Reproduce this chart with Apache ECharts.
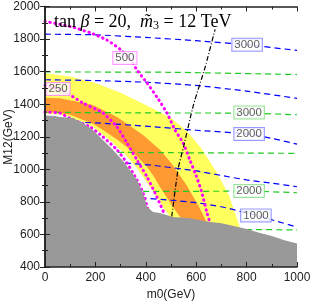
<!DOCTYPE html>
<html><head><meta charset="utf-8">
<script src="https://cdn.jsdelivr.net/npm/echarts@6/dist/echarts.min.js"></script>
<style>html,body{margin:0;padding:0;background:#fff}#c{width:312px;height:304px}</style>
</head><body><div id="c"></div>
<script>
// axis ranges / ticks
const xRange = [0, 1000], xStep = 200;
const yRange = [400, 2000], yStep = 200;

// regions (m0, M12)
const grayRegion = [[0,1330],[40,1328],[60,1322],[111,1315],[151,1285],[190,1241],[230,1180],[270,1119],[306,1057],[337,996],[365,934],[389,855],[405,769],[429,738],[456,732],[508,707],[575,700],[650,678],[700,668],[750,652],[800,633],[850,610],[900,590],[950,565],[1000,545],[1000,400],[0,400]];
const yellowUpper = [[0,1590],[100,1570],[200,1530],[300,1470],[400,1395],[500,1315],[560,1240],[620,1130],[680,985],[730,840],[770,660],[780,600]];
const yellowLower = [[0,1342],[60,1336],[100,1322],[150,1290],[190,1262],[230,1212],[270,1162],[310,1105],[349,1039],[380,975],[417,891],[445,830],[468,769],[496,707],[500,600]];
const orangeUpper = [[0,1440],[60,1436],[190,1395],[286,1322],[389,1210],[456,1120],[500,1040],[563,900],[615,760],[640,680],[650,600]];
const orangeLower = [[0,1354],[60,1346],[100,1335],[150,1305],[190,1280],[230,1241],[280,1190],[325,1137],[365,1080],[405,1014],[430,960],[456,891],[482,830],[508,769],[536,707],[545,600]];

// blue dashed contours
const blue1 = [[0,1830],[200,1826],[400,1810],[600,1790],[800,1765],[1000,1730]];
const blue2 = [[0,1550],[200,1545],[400,1535],[600,1515],[800,1480],[1000,1436]];
const blue3 = [[0,1295],[200,1285],[400,1265],[600,1240],[800,1218],[900,1190],[1000,1155]];
const blue4 = [[0,1060],[300,1040],[420,1026],[600,990],[700,962],[800,935],[900,915],[1000,893]];
const blue5 = [[300,830],[400,822],[500,810],[600,795],[700,770],[837,718],[900,690],[1000,645]];
// green dashed contours
const green1 = [[0,1598],[500,1596],[1000,1582]];
const green2 = [[0,1350],[500,1346],[800,1345],[1000,1335]];
const green3 = [[250,1105],[500,1102],[800,1100],[1000,1098]];
const green4 = [[350,865],[500,864],[800,866],[1000,856]];
const green5 = [[600,632],[800,630],[1000,628]];
// magenta dotted contours
const magA = [[0,1352],[60,1345],[100,1312],[179,1260],[230,1199],[286,1119],[325,1039],[365,934],[389,855],[409,750]];
const magB = [[0,1515],[52,1493],[87,1469],[151,1407],[230,1346],[286,1260],[325,1162],[365,1057],[405,953],[444,830],[476,719]];
const magC = [[0,1908],[100,1877],[180,1838],[245,1795],[300,1735],[340,1670],[365,1610],[405,1530],[444,1444],[484,1346],[516,1241],[548,1162],[575,1057],[600,960],[620,870],[643,732],[655,670]];
// black dash-dot line
const blackLine = [[503,710],[528,1000],[550,1140],[590,1400],[635,1625],[675,1860]];

// contour labels [m0, M12, text]
const blueLabels = [[802,1765,'3000'],[810,1217,'2000'],[837,717,'1000']];
const greenLabels = [[810,1349,'3000'],[810,867,'2000']];
const magLabels = [[317,1684,'500'],[52,1493,'250']];

function poly(pts, color, z){
  return {type:'custom', z, silent:true, clip:true, data: pts, encode:{x:0,y:1},
    renderItem:(params, api)=>{
      if(params.dataIndex!==0) return null;
      return {type:'polygon', shape:{points: pts.map(p=>api.coord(p))}, style:{fill:color}};
    }};
}
function band(upper, lower){ return upper.concat(lower.slice().reverse()); }
function line(pts, color, type, width, z, cap){
  return {type:'line', z, silent:true, data: pts, symbol:'none', smooth:0.2, clip:true,
    lineStyle:{color, type, width, cap: cap||'butt'}};
}
function labels(arr, border){
  return {type:'scatter', z:10, silent:true, data: arr, symbol:'rect', symbolSize:1,
    itemStyle:{color:'rgba(0,0,0,0)'},
    label:{show:true, position:'inside', formatter:p=>p.data[2], fontFamily:'Liberation Sans', fontSize:11.5,
      color:'#333', backgroundColor:'#fff', borderColor:border, borderWidth:1, padding:[1,2,0,2], lineHeight:11}};
}

const axisCommon = {
  splitLine:{show:false},
  axisLine:{show:true, lineStyle:{color:'#222', width:1.5}},
  axisTick:{show:true, inside:true, length:5, lineStyle:{color:'#222'}},
  minorTick:{show:true, splitNumber:2, length:3, lineStyle:{color:'#222'}},
  z: 20
};
const fmt = v => String(v);
const chart = echarts.init(document.getElementById('c'), null, {renderer:'canvas'});
chart.setOption({
  animation:false,
  grid:{left:45, right:15, top:6.5, bottom:37, containLabel:false, outerBoundsMode:'none'},
  title:{left:49, top:7, text:'{a|tan }{i|β}{a| = 20,  }{i|m̃}{s|3}{a| = 12 TeV}',
    textStyle:{fontWeight:'normal', rich:{
      a:{fontFamily:'Liberation Serif', fontSize:18, fontWeight:'normal', color:'#000'},
      i:{fontFamily:'Liberation Serif', fontSize:18, fontStyle:'italic', fontWeight:'normal', color:'#000'},
      s:{fontFamily:'Liberation Serif', fontSize:12, fontWeight:'normal', color:'#000', padding:[8,0,0,0]}
    }}},
  graphic:[{type:'text', x:9, y:137, rotation:Math.PI/2, z:30,
    style:{text:'M12(GeV)', font:'12px "Liberation Sans"', fill:'#222', align:'center', verticalAlign:'middle'}}],
  xAxis:[
    Object.assign({}, axisCommon, {type:'value', min:xRange[0], max:xRange[1], interval:xStep, position:'bottom',
      name:'m0(GeV)', nameLocation:'middle', nameGap:20, nameTextStyle:{fontFamily:'Liberation Sans', fontSize:12, color:'#222'},
      axisLabel:{fontFamily:'Liberation Sans', fontSize:12, color:'#222', margin:5, formatter:fmt}}),
    Object.assign({}, axisCommon, {type:'value', min:xRange[0], max:xRange[1], interval:xStep, position:'top', axisLabel:{show:false}})
  ],
  yAxis:[
    Object.assign({}, axisCommon, {type:'value', min:yRange[0], max:yRange[1], interval:yStep, position:'left',
      axisLabel:{fontFamily:'Liberation Sans', fontSize:12, color:'#222', margin:5, formatter:fmt}}),
    Object.assign({}, axisCommon, {type:'value', min:yRange[0], max:yRange[1], interval:yStep, position:'right', axisLabel:{show:false}})
  ],
  series:[
    poly(band(yellowUpper, yellowLower), '#ffff5e', 1),
    poly(band(orangeUpper, orangeLower), '#ff9a33', 1),
    line(blue1,'#0000ff',[6,4],1.2,3), line(blue2,'#0000ff',[6,4],1.2,3), line(blue3,'#0000ff',[6,4],1.2,3),
    line(blue4,'#0000ff',[6,4],1.2,3), line(blue5,'#0000ff',[6,4],1.2,3),
    line(green1,'#22cc22',[6,4],1.2,3), line(green2,'#22cc22',[6,4],1.2,3), line(green3,'#22cc22',[6,4],1.2,3),
    line(green4,'#22cc22',[6,4],1.2,3), line(green5,'#22cc22',[6,4],1.2,3),
    line(magA,'#ff00ff',[0.5,4.5],3,4,'round'), line(magB,'#ff00ff',[0.5,4.5],3,4,'round'), line(magC,'#ff00ff',[0.5,4.5],3,4,'round'),
    line(blackLine,'#000',[5,2,1,2],1.2,4),
    poly(grayRegion, '#999999', 6),
    labels(blueLabels, '#8080ff'), labels(greenLabels, '#80dd80'), labels(magLabels, '#ff80ff')
  ]
});
</script></body></html>
